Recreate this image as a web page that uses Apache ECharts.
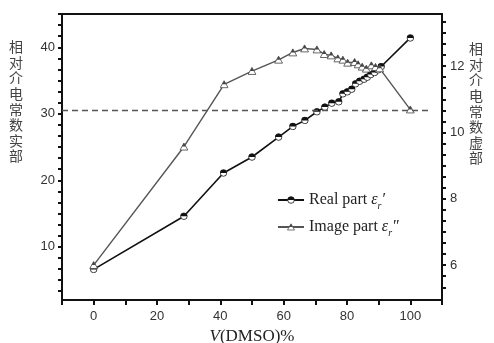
<!DOCTYPE html>
<html>
<head>
<meta charset="utf-8">
<script src="https://cdn.jsdelivr.net/npm/echarts@6/dist/echarts.min.js"></script>
<style>
  html, body { margin: 0; padding: 0; background: #fff; }
  #chart { width: 494px; height: 343px; }
</style>
</head>
<body>
<div id="chart"></div>
<script>
// 数据：DMSO 体积分数与相对介电常数
const realX = [0, 28.5, 41, 50, 58.4, 62.9, 66.7, 70.5, 73.0, 75.2, 77.4, 78.7, 80.1, 81.5, 82.7, 84.0, 85.4, 86.4, 87.5, 88.7, 89.8, 90.8, 100];
const realY = [6.6, 14.6, 21.1, 23.5, 26.5, 28.1, 29.0, 30.3, 31.0, 31.6, 31.8, 33.0, 33.3, 33.7, 34.5, 34.9, 35.2, 35.5, 35.9, 36.2, 36.6, 37.1, 41.4];
const imagX = [0, 28.5, 41.2, 50, 58.4, 62.9, 66.6, 70.5, 72.8, 75.0, 77.1, 78.7, 80.2, 82.4, 83.5, 84.8, 86.1, 87.7, 89.0, 90.3, 100];
const imagY = [6.0, 9.57, 11.45, 11.85, 12.19, 12.41, 12.53, 12.5, 12.36, 12.32, 12.23, 12.19, 12.1, 12.12, 12.05, 11.98, 11.92, 12.02, 11.97, 11.93, 10.69];
const refLevel = 30.5; // 虚线位置（左轴）
const refSpan = [-10, 106.6];

// 刻度
const xLabels = [0, 20, 40, 60, 80, 100];
const leftLabels = [10, 20, 30, 40];
const rightLabels = [6, 8, 10, 12];
const leftTicks = [];
for (let v = 10 - 5 * 10 / 6; v <= 45.01; v += 10 / 6) leftTicks.push(+v.toFixed(3));
const rightTicks = [];
for (let v = 5 + 1 / 3; v <= 13.6; v += 1 / 3) rightTicks.push(+v.toFixed(3));

const leftName = '相对介电常数实部';
const rightName = '相对介电常数虚部';

// 半实心符号
const svgUrl = s => 'image://data:image/svg+xml;charset=utf-8,' + encodeURIComponent(s);
const circleSym = svgUrl("<svg xmlns='http://www.w3.org/2000/svg' width='20' height='20' viewBox='0 0 20 20'>" +
  "<circle cx='10' cy='10' r='8.3' fill='#fff' stroke='#111' stroke-width='2'/>" +
  "<path d='M1.7 10 A8.3 8.3 0 0 1 18.3 10 Z' fill='#111'/></svg>");
const triSym = svgUrl("<svg xmlns='http://www.w3.org/2000/svg' width='20' height='20' viewBox='0 0 20 20'>" +
  "<polygon points='10,2 18.8,17.5 1.2,17.5' fill='#fff' stroke='#444' stroke-width='1.8'/>" +
  "<polygon points='10,2 14.4,9.8 5.6,9.8' fill='#444'/></svg>");

const pair = (xs, ys) => xs.map((x, i) => [x, ys[i]]);

const tickFont = { fontFamily: 'Liberation Sans', fontSize: 13, color: '#333' };
const serif = 'Liberation Serif';

const chart = echarts.init(document.getElementById('chart'));
chart.setOption({
  animation: false,
  grid: { left: 62, right: 52, top: 14, bottom: 43, outerBoundsMode: 'none' },
  legend: {
    left: 272, top: 187, orient: 'vertical',
    itemWidth: 26, itemHeight: 10, itemGap: 8,
    data: ['Real part', 'Image part'],
    formatter: n => n === 'Real part'
      ? '{t|Real part }{e|ε}{s|r}{p|′}'
      : '{t|Image part }{e|ε}{s|r}{p|″}',
    textStyle: {
      rich: {
        t: { fontFamily: serif, fontSize: 16, color: '#222' },
        e: { fontFamily: serif, fontSize: 16, fontStyle: 'italic', color: '#222' },
        s: { fontFamily: serif, fontSize: 10, fontStyle: 'italic', color: '#222', padding: [12, 0, 0, 0] },
        p: { fontFamily: serif, fontSize: 16, fontStyle: 'italic', color: '#222' }
      }
    }
  },
  xAxis: [{
    type: 'value', min: -10, max: 110, interval: 10,
    name: '{i|V}{n|(DMSO)%}', nameLocation: 'middle', nameGap: 26,
    nameTextStyle: { rich: {
      i: { fontFamily: serif, fontSize: 17, fontStyle: 'italic', color: '#222' },
      n: { fontFamily: serif, fontSize: 17, color: '#222' }
    } },
    axisLine: { onZero: false, lineStyle: { color: '#111', width: 2 } },
    axisTick: { inside: false, length: 5, lineStyle: { color: '#111', width: 2 } },
    axisLabel: { ...tickFont, margin: 10, customValues: xLabels },
    splitLine: { show: false }
  }, {
    type: 'value', position: 'top', min: -10, max: 110,
    axisLine: { show: true, onZero: false, lineStyle: { color: '#111', width: 2 } },
    axisTick: { show: false }, axisLabel: { show: false }, splitLine: { show: false }
  }],
  yAxis: [{
    type: 'value', min: 2, max: 45,
    axisLine: { show: true, onZero: false, lineStyle: { color: '#111', width: 2 } },
    axisTick: { show: true, length: 4, customValues: leftTicks, lineStyle: { color: '#111', width: 2 } },
    axisLabel: { ...tickFont, margin: 7, customValues: leftLabels },
    splitLine: { show: false }
  }, {
    type: 'value', min: 4.95, max: 13.57, position: 'right',
    axisLine: { show: true, onZero: false, lineStyle: { color: '#111', width: 2 } },
    axisTick: { show: true, length: 4, customValues: rightTicks, lineStyle: { color: '#111', width: 2 } },
    axisLabel: { ...tickFont, margin: 8, customValues: rightLabels },
    splitLine: { show: false }
  }],
  graphic: [
    { type: 'text', left: 9, top: 39, style: { text: leftName.split('').join('\n'), font: '14px "Noto Sans CJK SC"', lineHeight: 15.6, fill: '#444' } },
    { type: 'text', left: 469, top: 41, style: { text: rightName.split('').join('\n'), font: '14px "Noto Sans CJK SC"', lineHeight: 15.6, fill: '#444' } }
  ],
  series: [{
    name: 'Real part', type: 'line', yAxisIndex: 0,
    data: pair(realX, realY),
    symbol: circleSym, symbolSize: 8,
    lineStyle: { color: '#111', width: 1.6 }, itemStyle: { color: '#111' },
    markLine: {
      silent: true, symbol: 'none', label: { show: false },
      lineStyle: { color: '#555', width: 1.3, type: [6, 4] },
      data: [[{ coord: [refSpan[0], refLevel] }, { coord: [refSpan[1], refLevel] }]]
    }
  }, {
    name: 'Image part', type: 'line', yAxisIndex: 1,
    data: pair(imagX, imagY),
    symbol: triSym, symbolSize: 9,
    lineStyle: { color: '#555', width: 1.4 }, itemStyle: { color: '#555' }
  }]
});
</script>
</body>
</html>
